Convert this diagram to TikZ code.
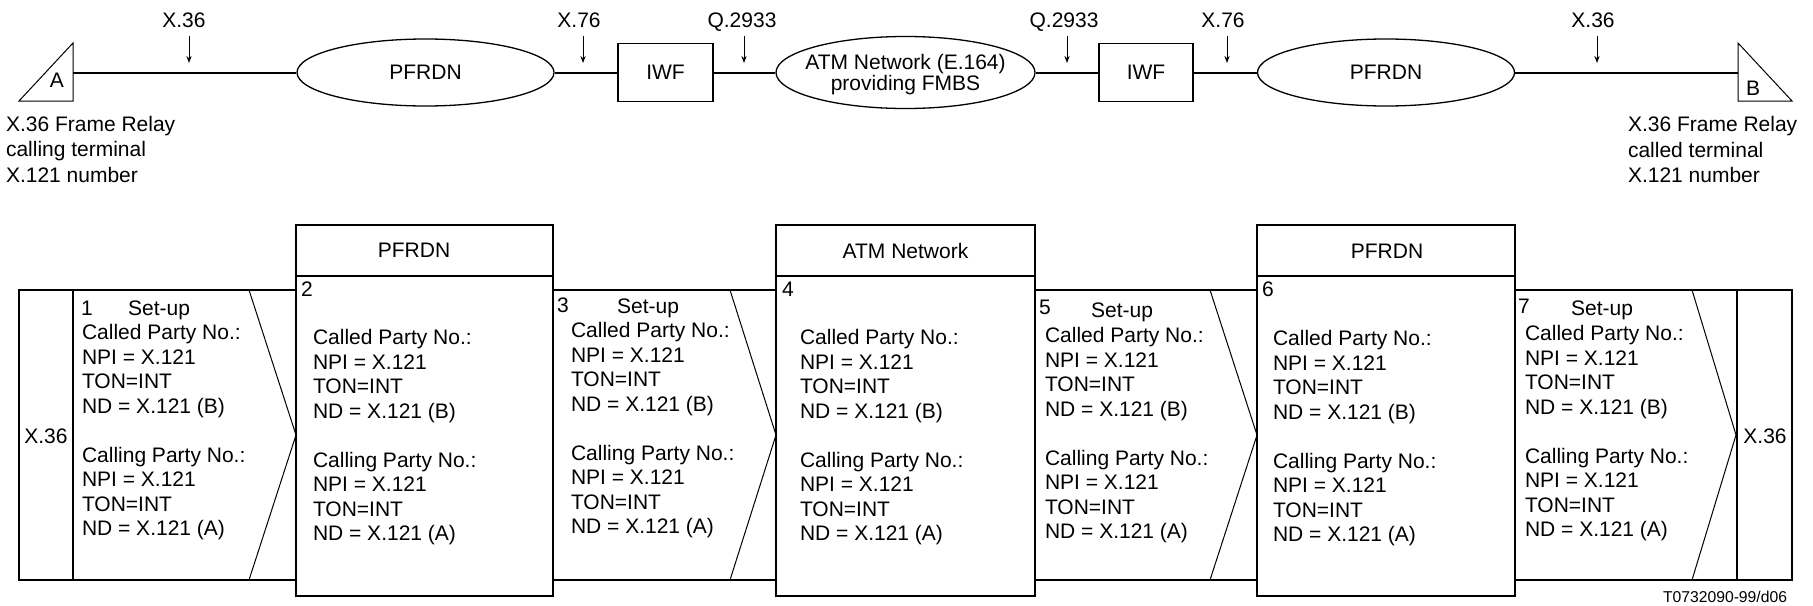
\documentclass[tikz,border=0pt]{standalone}
\usepackage{fontspec}
\setmainfont{Liberation Sans}
\usetikzlibrary{shapes.geometric,arrows.meta}
\newcommand\msgtext{Called Party No.:\\NPI = X.121\\TON=INT\\ND = X.121 (B)\\[12.25pt]Calling Party No.:\\NPI = X.121\\TON=INT\\ND = X.121 (A)}
\begin{document}
\begin{tikzpicture}[x=0.5pt,y=-0.5pt,
  txt/.style={font=\fontsize{10.5}{12.25}\selectfont, inner sep=0pt, outer sep=0pt},
  blk/.style={txt, align=left, anchor=north west},
  bw/.style={txt, anchor=base west},
  bc/.style={txt, anchor=base},
  thk/.style={line width=1pt},
  thn/.style={line width=0.5pt},
  med/.style={line width=0.65pt},
  ell/.style={ellipse, draw, med, inner sep=0pt},
  iwfbox/.style={rectangle, draw, med, inner sep=0pt, minimum height=29pt},
  ptr/.style={thn, -{Stealth[length=3.5pt,width=2.6pt]}},
]
\useasboundingbox (0,0) rectangle (1813,605);

% ---------- top row ----------
\draw[thn] (19,101) -- (73,43) -- (73,101) -- cycle;
\coordinate (ta) at (73,72.5);
\node[bc] (lA) at (57,87.5) {A};
\draw[thn] (1738,43) -- (1792,101) -- (1738,101) -- cycle;
\coordinate (tb) at (1738,72.5);
\node[bc] (lB) at (1753,95) {B};

\node[ell, minimum width=128.5pt, minimum height=33.5pt] (e1) at (425.5,72.5) {};
\node[txt] (e1t) at (e1.center) {PFRDN};
\node[iwfbox, minimum width=47.5pt] (iwf1) at (665.5,72.5) {};
\node[txt] (iwf1t) at (iwf1.center) {IWF};
\node[ell, minimum width=129.5pt, minimum height=36pt] (atm) at (905.5,72.5) {};
\node[txt, align=center, font=\fontsize{10.5}{10.85}\selectfont, text depth=0pt] (atmt) at (atm.center) {ATM Network (E.164)\\providing FMBS};
\node[iwfbox, minimum width=47pt] (iwf2) at (1146,72.5) {};
\node[txt] (iwf2t) at (iwf2.center) {IWF};
\node[ell, minimum width=128.5pt, minimum height=33.5pt] (e2) at (1386,72.5) {};
\node[txt] (e2t) at (e2.center) {PFRDN};

\draw[thk] (ta) -- (e1.west);
\draw[thk] (e1.east) -- (iwf1.west);
\draw[thk] (iwf1.east) -- (atm.west);
\draw[thk] (atm.east) -- (iwf2.west);
\draw[thk] (iwf2.east) -- (e2.west);
\draw[thk] (e2.east) -- (tb);

% interface labels and pointers
\node[bc] (i1) at (184,27.5) {X.36};
\node[bc] (i2) at (579,27.5) {X.76};
\node[bc] (i3) at (742,27.5) {Q.2933};
\node[bc] (i4) at (1064,27.5) {Q.2933};
\node[bc] (i5) at (1223,27.5) {X.76};
\node[bc] (i6) at (1593,27.5) {X.36};
\foreach \n/\x in {1/189,2/583,3/744,4/1067,5/1227,6/1597}{
  \coordinate (p\n s) at (\x,36);
  \coordinate (p\n e) at (\x,63);
  \draw[ptr] (p\n s) -- (p\n e);
}

\node[blk, font=\fontsize{10.5}{12.75}\selectfont] (termA) at (6,116) {X.36 Frame Relay\\calling terminal\\X.121 number};
\node[blk, font=\fontsize{10.5}{12.75}\selectfont] (termB) at (1628,116.5) {X.36 Frame Relay\\called terminal\\X.121 number};

% ---------- bottom chart ----------
\draw[thk] (19,290) rectangle (1792,580);
\draw[thk] (73,290) -- (73,580);
\draw[thk] (1737,290) -- (1737,580);

\draw[thn] (249,290) -- (296,435) -- (249,580);
\draw[thn] (730,290) -- (776,435) -- (730,580);
\draw[thn] (1210,290) -- (1257,435) -- (1210,580);
\draw[thn] (1692,290) -- (1736,435) -- (1692,580);

\draw[med, fill=white] (296,225) rectangle (553,596);
\draw[thk] (296,276) -- (553,276);
\draw[med, fill=white] (776,225) rectangle (1035,596);
\draw[thk] (776,276) -- (1035,276);
\draw[med, fill=white] (1257,225) rectangle (1515,596);
\draw[thk] (1257,276) -- (1515,276);

\node[bc] (h2) at (414,257.5) {PFRDN};
\node[bc] (h4) at (905.5,258.5) {ATM Network};
\node[bc] (h6) at (1387,258) {PFRDN};

\node[bc] (xl) at (46,443.5) {X.36};
\node[bc] (xr) at (1765,443.5) {X.36};

\node[bw] (n2) at (301,296.5) {2};
\node[bw] (n4) at (782,296.5) {4};
\node[bw] (n6) at (1262,296.5) {6};

\node[bw] (n1) at (81,315.5) {1};
\node[bc] (s1) at (159,315.5) {Set-up};
\node[bw] (n3) at (557,312.5) {3};
\node[bc] (s3) at (648,313.5) {Set-up};
\node[bw] (n5) at (1039,314.5) {5};
\node[bc] (s5) at (1122,317.5) {Set-up};
\node[bw] (n7) at (1518,313.5) {7};
\node[bc] (s7) at (1602,315.5) {Set-up};

\node[blk] (m1) at (82,324.5) {\msgtext};
\node[blk] (b2) at (313,329.5) {\msgtext};
\node[blk] (m3) at (571,322.5) {\msgtext};
\node[blk] (b4) at (800,329.5) {\msgtext};
\node[blk] (m5) at (1045,327.5) {\msgtext};
\node[blk] (b6) at (1273,330.5) {\msgtext};
\node[blk] (m7) at (1525,325.5) {\msgtext};

\node[txt, font=\fontsize{7.85}{9}\selectfont, anchor=base east] (ref) at (1787,602.5) {T0732090-99/d06};
\end{tikzpicture}
\end{document}
